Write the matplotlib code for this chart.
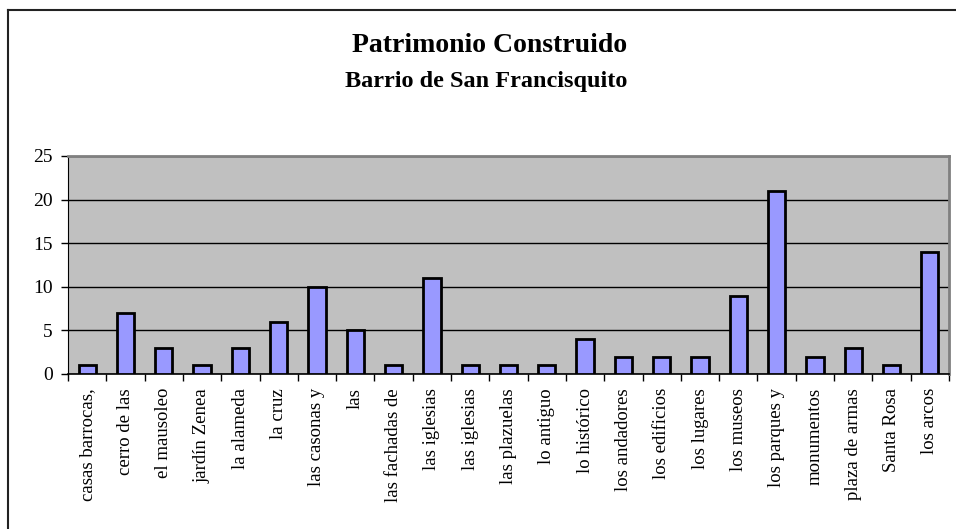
import matplotlib
matplotlib.use("Agg")
import matplotlib.pyplot as plt
from matplotlib.lines import Line2D

categories = [
    "casas barrocas,", "cerro de las", "el mausoleo", "jardín Zenea", "la alameda",
    "la cruz", "las casonas y", "las", "las fachadas de", "las iglesias",
    "las iglesias", "las plazuelas", "lo antiguo", "lo histórico", "los andadores",
    "los edificios", "los lugares", "los museos", "los parques y", "monumentos",
    "plaza de armas", "Santa Rosa", "los arcos",
]
values = [1, 7, 3, 1, 3, 6, 10, 5, 1, 11, 1, 1, 1, 4, 2, 2, 2, 9, 21, 2, 3, 1, 14]
y_ticks = [0, 5, 10, 15, 20, 25]
title_1 = "Patrimonio Construido"
title_2 = "Barrio de San Francisquito"

plt.rcParams["font.family"] = ["Liberation Serif", "DejaVu Serif"]

W, H = 956, 529
fig = plt.figure(figsize=(W / 100, H / 100), dpi=100)

# plot area in pixel coordinates
left, right, top, bottom = 68, 949, 156, 374
ax = fig.add_axes([left / W, 1 - bottom / H, (right - left) / W, (bottom - top) / H])
ax.set_facecolor("#C0C0C0")

x = list(range(len(categories)))
ax.bar(x, values, width=0.45, color="#9999FF", edgecolor="black", linewidth=2, zorder=3)

ax.set_xlim(-0.5, len(categories) - 0.5)
ax.set_ylim(0, 25)
ax.set_yticks(y_ticks)
ax.set_yticklabels([str(t) for t in y_ticks], fontsize=14)
ax.yaxis.grid(True, color="black", linewidth=1, zorder=1)
ax.set_axisbelow(True)

# category labels centered, ticks between categories
ax.set_xticks(x)
ax.set_xticklabels(categories, rotation=90, fontsize=13.5, va="top")
ax.tick_params(axis="x", length=0, pad=10)
ax.set_xticks([i - 0.5 for i in range(len(categories) + 1)], minor=True)
ax.tick_params(axis="x", which="minor", length=5, width=1, color="black")
ax.tick_params(axis="y", length=5, width=1, color="black", pad=6)

for side in ("top", "right"):
    ax.spines[side].set_color("#808080")
    ax.spines[side].set_linewidth(2)
ax.spines["left"].set_color("black")
ax.spines["bottom"].set_color("black")
ax.spines["bottom"].set_linewidth(1.2)

fig.text(490 / W, 1 - 45 / H, title_1, ha="center", va="center",
         fontsize=20, fontweight="bold")
fig.text(486 / W, 1 - 81 / H, title_2, ha="center", va="center",
         fontsize=17.5, fontweight="bold")

# chart area border (only top and left visible)
fig.add_artist(Line2D([8 / W, 8 / W], [0, 1 - 10 / H], color="#222222", linewidth=1.5))
fig.add_artist(Line2D([8 / W, 1], [1 - 10 / H, 1 - 10 / H], color="#222222", linewidth=1.5))

fig.savefig("out.png", dpi=100)
